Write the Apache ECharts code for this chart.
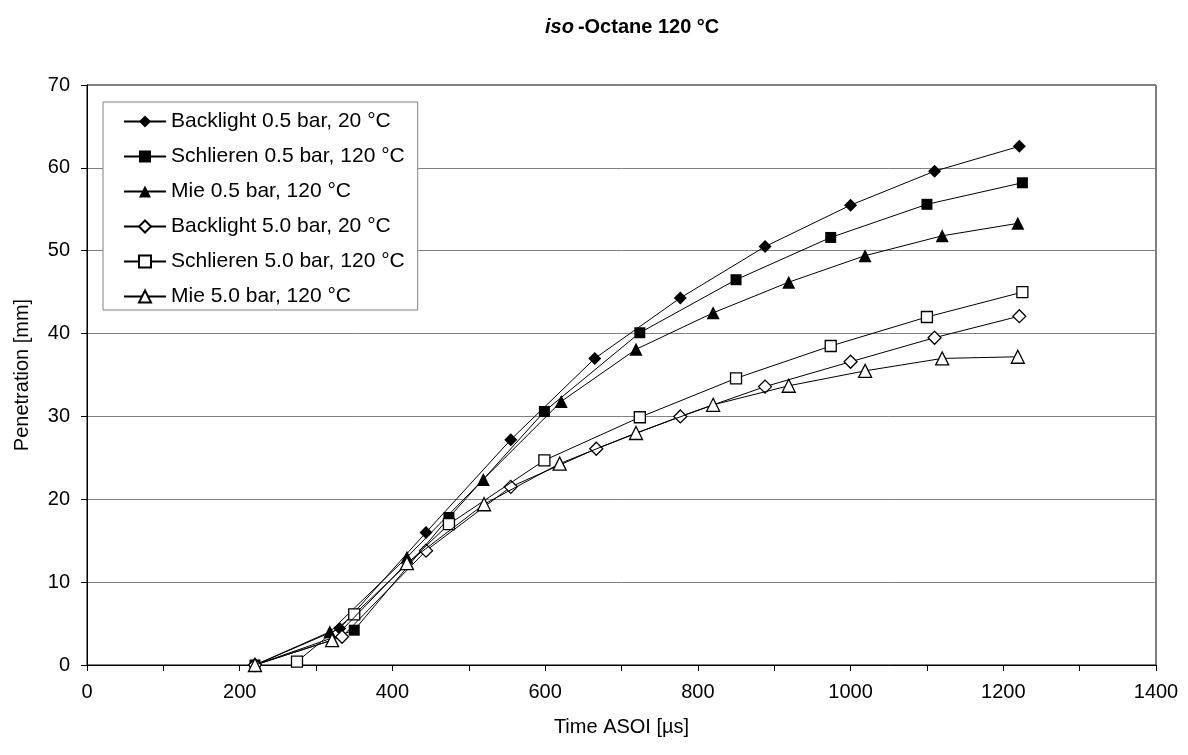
<!DOCTYPE html>
<html>
<head>
<meta charset="utf-8">
<script src="https://cdn.jsdelivr.net/npm/echarts@6/dist/echarts.min.js"></script>
<style>
  html, body { margin: 0; padding: 0; background: #fff; }
  #chart { width: 1188px; height: 755px; }
</style>
</head>
<body>
<div id="chart"></div>
<script>
// Spray tip penetration vs. time after start of injection, [time µs, penetration mm]
const backlight05 = [[220,0],[331,4.4],[444,16.0],[555,27.2],[665,37.0],[777,44.3],[888,50.5],[1000,55.5],[1110,59.6],[1221,62.6]];
const schlieren05 = [[220,0],[350,4.2],[474,17.8],[599,30.6],[724,40.1],[850,46.5],[974,51.6],[1100,55.6],[1225,58.2]];
const mie05       = [[220,0],[318,4.0],[419,13.0],[519,22.4],[621,31.8],[719,38.1],[820,42.5],[919,46.2],[1019,49.4],[1120,51.8],[1219,53.3]];
const backlight50 = [[220,0],[334,3.4],[444,13.8],[555,21.5],[667,26.1],[777,30.0],[888,33.6],[1000,36.6],[1110,39.5],[1221,42.1]];
const schlieren50 = [[275,0.4],[350,6.1],[474,17.0],[599,24.7],[724,29.9],[850,34.6],[974,38.5],[1100,42.0],[1225,45.0]];
const mie50       = [[220,0],[321,3.0],[419,12.3],[520,19.4],[619,24.3],[719,28.0],[820,31.4],[919,33.7],[1019,35.5],[1120,37.0],[1219,37.2]];

const seriesNames = [
  'Backlight 0.5 bar, 20 °C',
  'Schlieren 0.5 bar, 120 °C',
  'Mie 0.5 bar, 120 °C',
  'Backlight 5.0 bar, 20 °C',
  'Schlieren 5.0 bar, 120 °C',
  'Mie 5.0 bar, 120 °C'
];
const seriesData = [backlight05, schlieren05, mie05, backlight50, schlieren50, mie50];
const symbols = ['diamond', 'rect', 'triangle', 'diamond', 'rect', 'triangle'];
const filled = [true, true, true, false, false, false];

const FONT = 'Liberation Sans, Arial, sans-serif';
const symbolSizes = { diamond: 13, rect: 11, triangle: 13 };

const series = seriesNames.map((name, i) => ({
  name,
  type: 'line',
  data: seriesData[i],
  symbol: symbols[i],
  symbolSize: symbolSizes[symbols[i]],
  showAllSymbol: true,
  lineStyle: { color: '#000', width: 1 },
  itemStyle: filled[i]
    ? { color: '#000', borderColor: '#000', borderWidth: 0 }
    : { color: '#fff', borderColor: '#000', borderWidth: 1.3 },
  emphasis: { disabled: true },
  animation: false,
  z: 2 + i
}));

const chart = echarts.init(document.getElementById('chart'), null, { renderer: 'canvas' });
chart.setOption({
  backgroundColor: '#fff',
  animation: false,
  title: {
    text: '{a|iso}{b|-Octane 120 °C}',
    left: 540,
    top: 12,
    textStyle: {
      rich: {
        a: { fontFamily: FONT, fontSize: 20, fontWeight: 'bold', fontStyle: 'italic', color: '#000', padding: [0, 4, 0, 0] },
        b: { fontFamily: FONT, fontSize: 20, fontWeight: 'bold', color: '#000' }
      }
    }
  },
  grid: {
    left: 87, right: 32, top: 85, bottom: 90,
    show: true, borderColor: '#000', borderWidth: 1, backgroundColor: '#fff'
  },
  legend: {
    orient: 'vertical',
    left: 103,
    top: 102,
    padding: [9, 13, 3, 20],
    itemWidth: 42,
    itemHeight: 15,
    itemGap: 14,
    itemTextGap: 3,
    backgroundColor: '#fff',
    borderColor: '#808080',
    borderWidth: 1,
    borderRadius: 0,
    textStyle: { fontFamily: FONT, fontSize: 21, color: '#000', lineHeight: 21 },
    data: seriesNames
  },
  xAxis: {
    type: 'value',
    min: 0, max: 1400, interval: 100,
    name: 'Time ASOI [µs]',
    nameLocation: 'middle',
    nameGap: 52,
    nameTextStyle: { fontFamily: FONT, fontSize: 20, color: '#000' },
    axisLine: { show: true, onZero: false, lineStyle: { color: '#000', width: 1 } },
    axisTick: { show: true, length: 6, lineStyle: { color: '#000' } },
    axisLabel: {
      fontFamily: FONT, fontSize: 20, color: '#000', margin: 17,
      formatter: v => (v % 200 === 0 ? String(v) : '')
    },
    splitLine: { show: false }
  },
  yAxis: {
    type: 'value',
    min: 0, max: 70, interval: 10,
    name: 'Penetration [mm]',
    nameLocation: 'middle',
    nameGap: 55,
    nameTextStyle: { fontFamily: FONT, fontSize: 20, color: '#000' },
    axisLine: { show: true, lineStyle: { color: '#000', width: 1 } },
    axisTick: { show: true, length: 6, lineStyle: { color: '#000' } },
    axisLabel: { fontFamily: FONT, fontSize: 20, color: '#000', margin: 17 },
    splitLine: { show: true, lineStyle: { color: '#808080', width: 1 } }
  },
  series
});
</script>
</body>
</html>
